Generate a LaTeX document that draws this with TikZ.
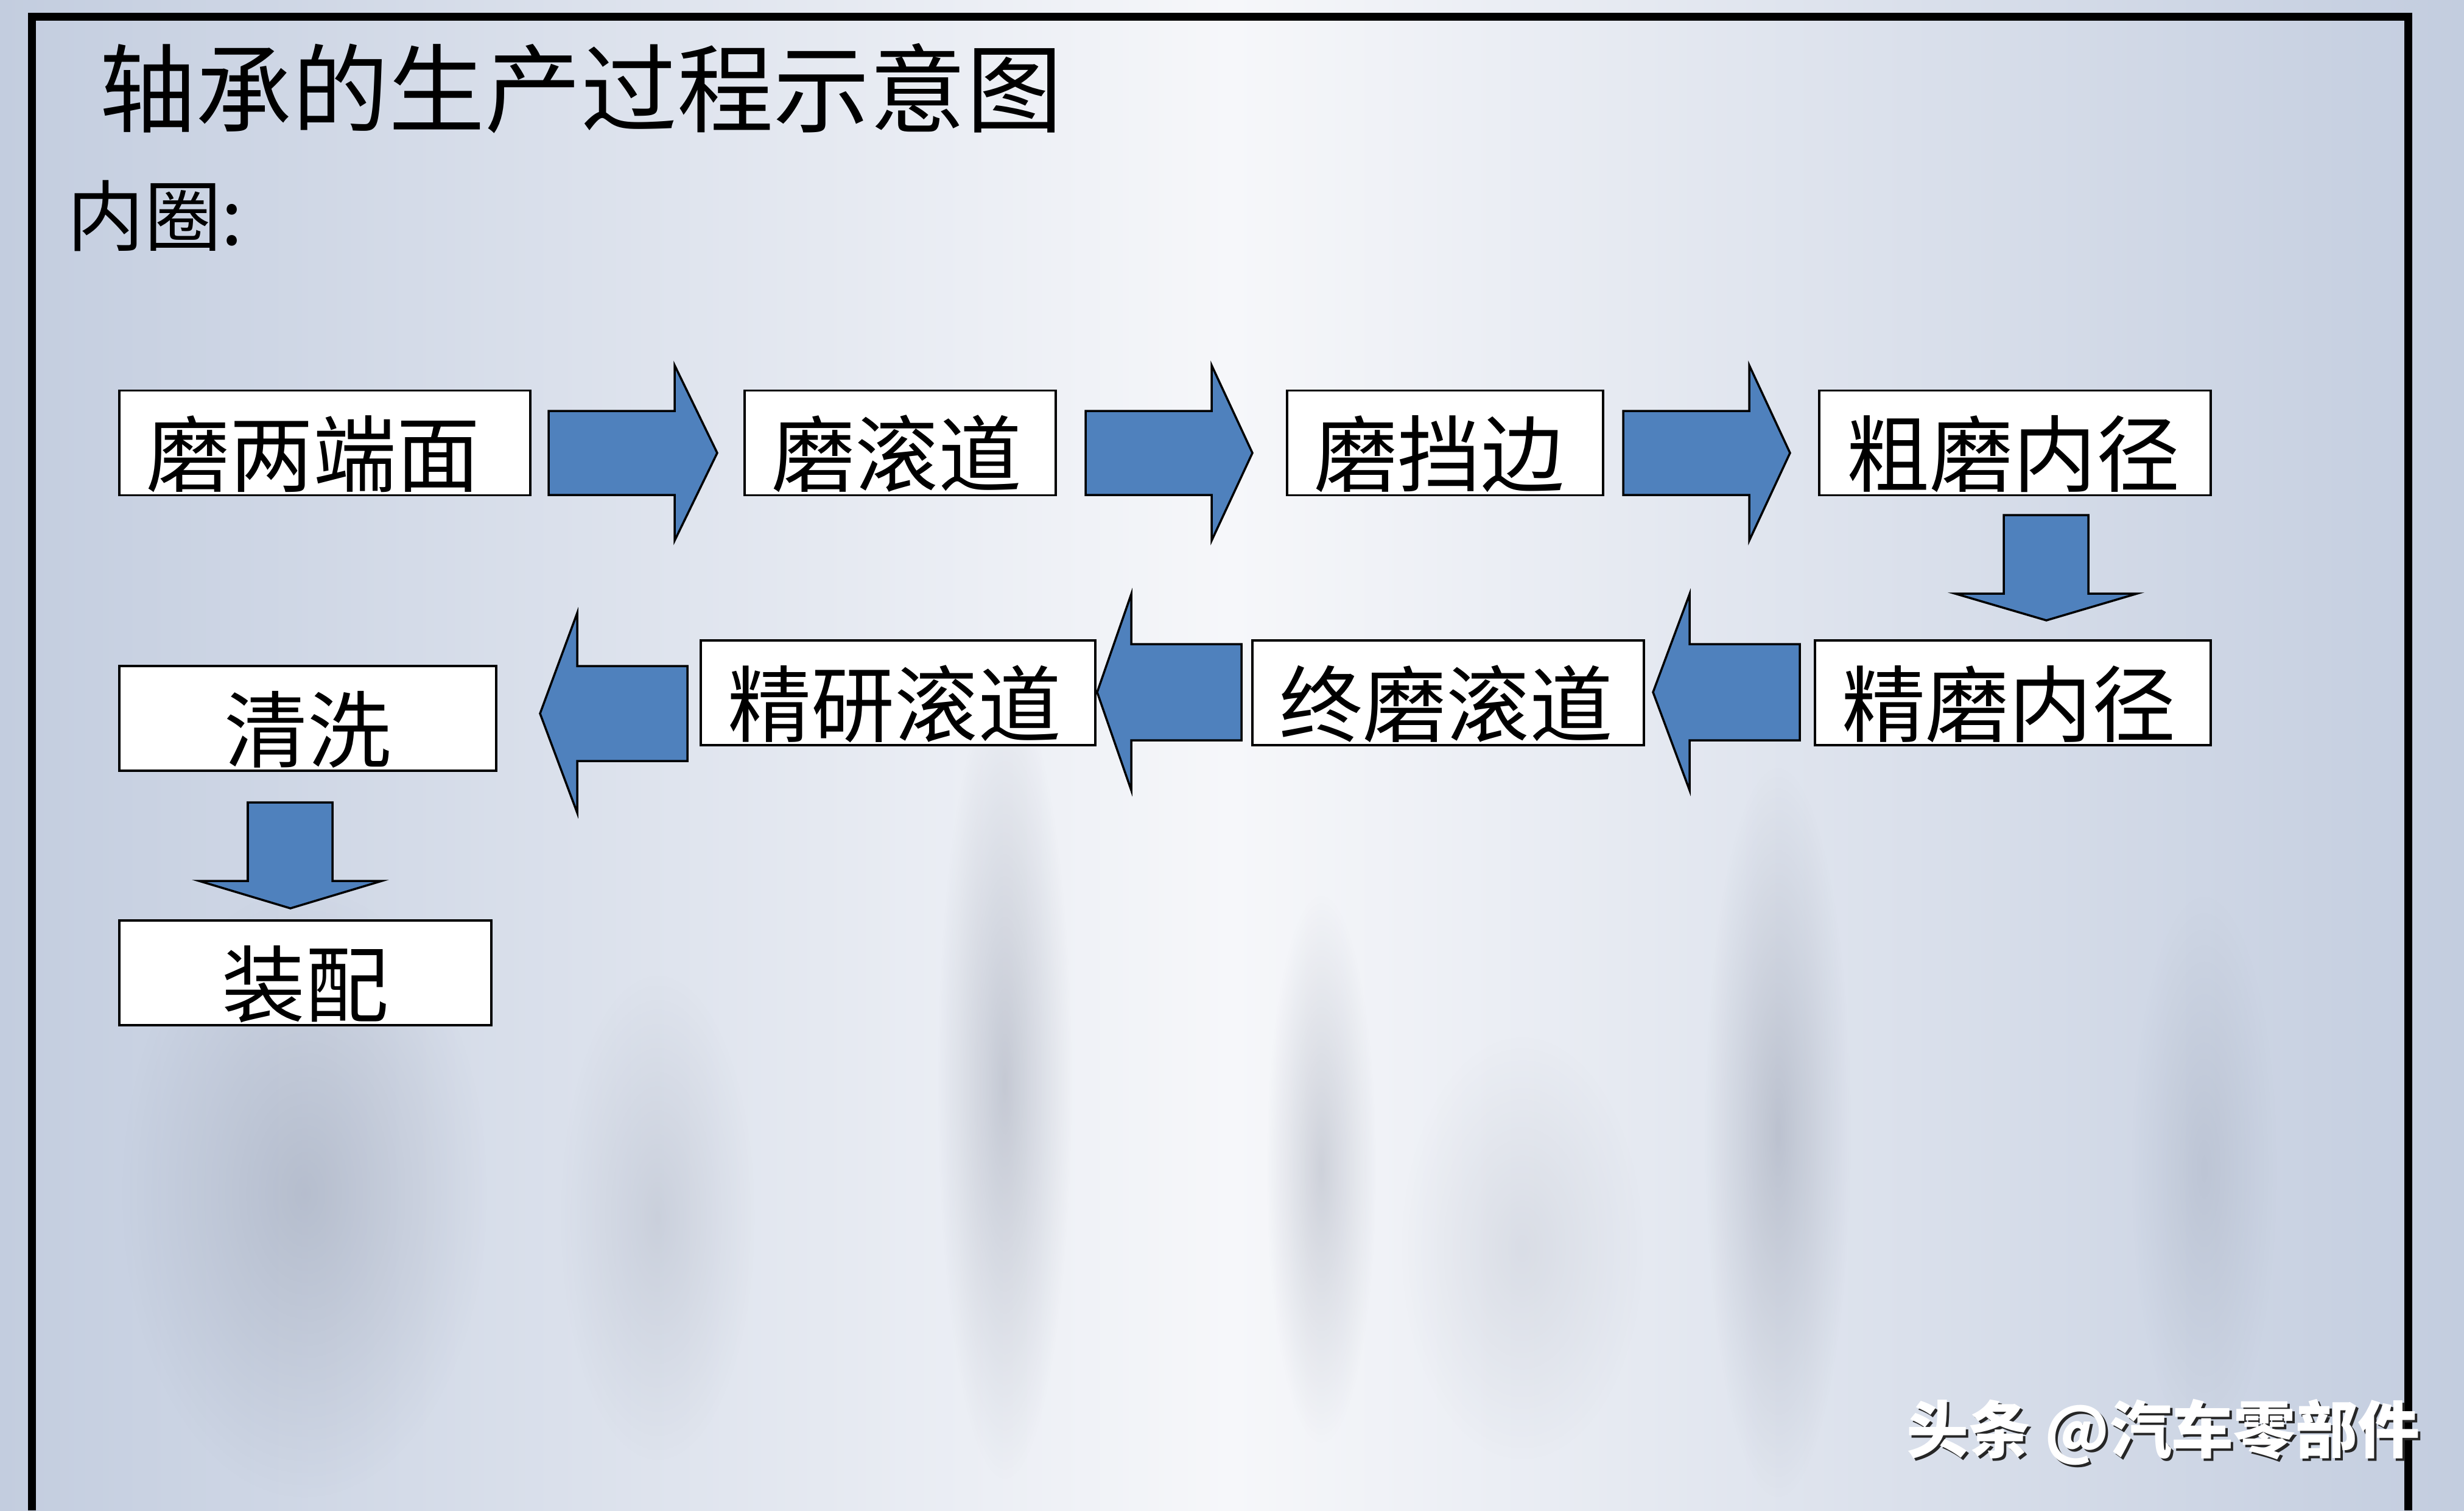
\documentclass[tikz,border=0pt]{standalone}
\usepackage{fontspec}
\newfontfamily\cjk{Noto Sans CJK SC}
\usetikzlibrary{fadings}
\definecolor{flowblue}{HTML}{4F81BD}
\definecolor{bgedge}{HTML}{C3CDDF}
\definecolor{bgmid}{HTML}{F6F7FA}
\definecolor{haze}{HTML}{7A8296}
\tikzfading[name=softblob, inner color=transparent!0, outer color=transparent!100]

\begin{document}
\begin{tikzpicture}[
  box/.style={rectangle, draw, line width=1.1pt, fill=white, minimum height=1.72cm, inner xsep=0.44cm, inner ysep=0pt,
    align=left, text height=1.40cm, text depth=0pt, font=\cjk\fontsize{39}{39}\selectfont},
  boxc/.style={box, align=center},
  blk/.style={draw, line width=1pt, fill=flowblue, line join=miter},
  frame/.style={line width=0.13cm},
  tower/.style={fill=haze, path fading=softblob, opacity=#1}
]
  \useasboundingbox (0,0) rectangle (40.47,-24.81);
  \shade[left color=bgedge, right color=bgedge, middle color=bgmid] (0,0) rectangle (40.47,-24.81);
  \fill[tower=0.35] (16.5,-17.8) ellipse (1.1 and 6.5);
  \fill[tower=0.3] (21.7,-19.2) ellipse (0.9 and 4.5);
  \fill[tower=0.35] (29.2,-18.6) ellipse (1.2 and 6.0);
  \fill[tower=0.3] (5.0,-19.6) ellipse (3.0 and 5.0);
  \fill[tower=0.2] (10.8,-20.0) ellipse (1.6 and 4.0);
  \fill[tower=0.2] (36.2,-19.2) ellipse (1.2 and 4.5);
  \fill[tower=0.15] (25.0,-20.5) ellipse (2.0 and 3.5);
  \draw[frame] (0.52,-24.81) -- (0.52,-0.27) -- (39.55,-0.27) -- (39.55,-24.81);

  \node[font=\cjk\fontsize{45}{45}\selectfont, anchor=west, inner sep=0pt] (title) at (1.63,-1.455) {轴承的生产过程示意图};
  \node[font=\cjk\fontsize{36}{36}\selectfont, anchor=west, inner sep=0pt] (ring) at (1.10,-3.55) {内圈:};

  \node[box, text width=5.87cm] (b1) at (5.335,-7.275) {磨两端面};
  \node[box, text width=4.23cm] (b2) at (14.785,-7.275) {磨滚道};
  \node[box, text width=4.31cm] (b3) at (23.735,-7.275) {磨挡边};
  \node[box, text width=5.55cm] (b4) at (33.095,-7.275) {粗磨内径};
  \node[box, text width=5.62cm] (b5) at (33.06,-11.38) {精磨内径};
  \node[box, text width=5.55cm] (b6) at (23.785,-11.38) {终磨滚道};
  \node[box, text width=5.60cm] (b7) at (14.75,-11.38) {精研滚道};
  \node[boxc, text width=5.31cm] (b8) at (5.055,-11.80) {清洗};
  \node[boxc, text width=5.23cm] (b9) at (5.015,-15.98) {装配};

  \draw[blk] (9.01,-6.75) -- (11.08,-6.75) -- (11.08,-6.00) -- (11.78,-7.44) -- (11.08,-8.88) -- (11.08,-8.13) -- (9.01,-8.13) -- cycle;
  \draw[blk] (17.83,-6.75) -- (19.90,-6.75) -- (19.90,-6.00) -- (20.57,-7.44) -- (19.90,-8.88) -- (19.90,-8.13) -- (17.83,-8.13) -- cycle;
  \draw[blk] (26.66,-6.75) -- (28.73,-6.75) -- (28.73,-6.00) -- (29.40,-7.44) -- (28.73,-8.88) -- (28.73,-8.13) -- (26.66,-8.13) -- cycle;
  \draw[blk] (32.91,-8.46) -- (34.30,-8.46) -- (34.30,-9.75) -- (35.10,-9.75) -- (33.61,-10.19) -- (32.11,-9.75) -- (32.91,-9.75) -- cycle;
  \draw[blk] (29.56,-10.58) -- (27.75,-10.58) -- (27.75,-9.76) -- (27.15,-11.37) -- (27.75,-12.98) -- (27.75,-12.16) -- (29.56,-12.16) -- cycle;
  \draw[blk] (20.39,-10.58) -- (18.58,-10.58) -- (18.58,-9.76) -- (18.02,-11.37) -- (18.58,-12.98) -- (18.58,-12.16) -- (20.39,-12.16) -- cycle;
  \draw[blk] (11.29,-10.94) -- (9.48,-10.94) -- (9.48,-10.07) -- (8.87,-11.72) -- (9.48,-13.35) -- (9.48,-12.50) -- (11.29,-12.50) -- cycle;
  \draw[blk] (4.07,-13.18) -- (5.46,-13.18) -- (5.46,-14.47) -- (6.27,-14.47) -- (4.77,-14.92) -- (3.27,-14.47) -- (4.07,-14.47) -- cycle;

  \node[font=\cjk\bfseries\fontsize{29}{29}\selectfont, text=black!85, anchor=west, inner sep=0pt] (wmshadow) at (31.35,-23.56) {头条 @汽车零部件};
  \node[font=\cjk\bfseries\fontsize{29}{29}\selectfont, text=white, anchor=west, inner sep=0pt] (wm) at (31.31,-23.52) {头条 @汽车零部件};
\end{tikzpicture}
\end{document}
